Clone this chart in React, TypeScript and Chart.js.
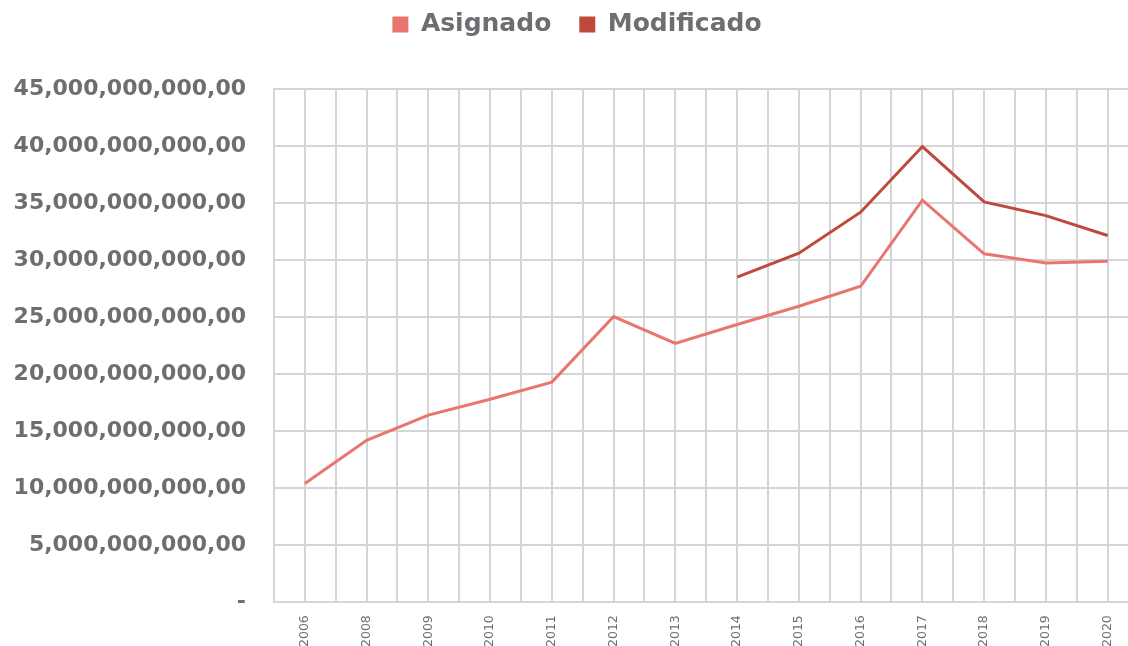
import React, { useEffect, useRef } from "react";
import { Chart, registerables } from "chart.js";

Chart.register(...registerables);

const years = ["2006", "2008", "2009", "2010", "2011", "2012", "2013", "2014", "2015", "2016", "2017", "2018", "2019", "2020"];
const asignado = [10.4, 14.2, 16.4, 17.8, 19.3, 25.05, 22.7, 24.35, 25.95, 27.7, 35.25, 30.55, 29.75, 29.9];
const modificado = [null, null, null, null, null, null, null, 28.5, 30.6, 34.2, 39.95, 35.1, 33.9, 32.15];
const yTicksMax = 45;
const yStep = 5;

const GRAY = "#6d6e71";
const GRID = "#d5d5d7";
const C_ASIG = "#e8756e";
const C_MOD = "#bd4a3d";
const FONT = "'DejaVu Sans', sans-serif";

const toPoints = (arr: (number | null)[]) =>
  arr.map((v, i) => ({ x: i, y: v === null ? null : v * 1e9 })).filter((p) => p.y !== null);

const fmt = (v: number) => (v === 0 ? "-" : Math.round(v).toLocaleString("en-US") + ",00");

export default function App() {
  const ref = useRef<HTMLCanvasElement | null>(null);
  useEffect(() => {
    if (!ref.current) return;
    const spacer = {
      id: "legendSpacer",
      afterInit(chart: any) {
        const lg = chart.legend;
        if (!lg) return;
        const origFit = lg.fit;
        lg.fit = function () {
          origFit.call(this);
          this.height += 42;
        };
        const origDraw = lg.draw;
        lg.draw = function () {
          this.left += 13;
          this.right += 13;
          origDraw.call(this);
          this.left -= 13;
          this.right -= 13;
        };
      },
    };
    const chart = new Chart(ref.current, {
      type: "line",
      data: {
        datasets: [
          {
            label: "Asignado",
            data: toPoints(asignado) as any,
            borderColor: C_ASIG,
            backgroundColor: C_ASIG,
            borderWidth: 3,
            pointRadius: 0,
            tension: 0,
          },
          {
            label: "Modificado",
            data: toPoints(modificado) as any,
            borderColor: C_MOD,
            backgroundColor: C_MOD,
            borderWidth: 3,
            pointRadius: 0,
            tension: 0,
          },
        ],
      },
      options: {
        animation: false,
        responsive: true,
        maintainAspectRatio: false,
        layout: { padding: { top: -16, left: 0, right: 0, bottom: -14 } },
        plugins: {
          tooltip: { enabled: false },
          legend: {
            position: "top",
            labels: {
              boxWidth: 16,
              boxHeight: 16,
              padding: 28,
              color: GRAY,
              font: { family: FONT, size: 25, weight: "bold" },
              generateLabels: (c: any) =>
                (Chart.defaults.plugins.legend.labels as any).generateLabels(c).map((l: any) => ({ ...l, lineWidth: 0 })),
            },
          },
        },
        scales: {
          x: {
            type: "linear",
            min: -0.5,
            max: 13.33,
            afterBuildTicks: (scale: any) => {
              const t = [];
              for (let v = 0; v <= (years.length - 1) * 2; v++) t.push({ value: v / 2 });
              scale.ticks = t;
            },
            afterFit: (scale: any) => {
              scale.paddingRight = 0;
              scale.paddingLeft = 0;
            },
            grid: { color: GRID, lineWidth: 2, drawTicks: false },
            border: { color: GRID, width: 2 },
            ticks: {
              autoSkip: false,
              minRotation: 90,
              maxRotation: 90,
              padding: 13,
              color: GRAY,
              font: { family: FONT, size: 12.5 },
              callback: (v: any) => (Number.isInteger(v) ? years[v] : ""),
            },
          },
          y: {
            min: 0,
            max: yTicksMax * 1e9,
            afterFit: (scale: any) => {
              scale.width = 274;
            },
            grid: { color: GRID, lineWidth: 2, drawTicks: false },
            border: { color: GRID, width: 2 },
            ticks: {
              stepSize: yStep * 1e9,
              padding: 28,
              color: GRAY,
              font: { family: FONT, size: 22, weight: "bold" },
              callback: (v: any) => fmt(Number(v)),
            },
          },
        },
      },
      plugins: [spacer],
    });
    return () => chart.destroy();
  }, []);
  return (
    <div style={{ position: "fixed", left: 0, top: 0, width: 1128, height: 646, background: "#fff" }}>
      <canvas ref={ref} />
    </div>
  );
}
